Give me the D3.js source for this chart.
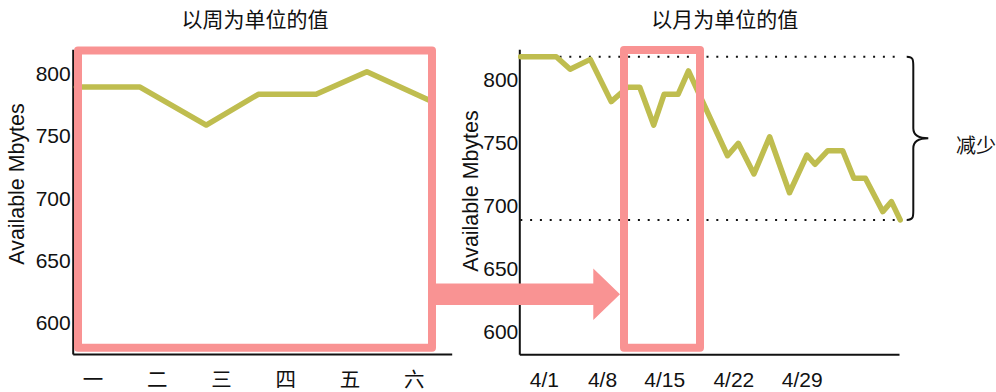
<!DOCTYPE html>
<html>
<head>
<meta charset="utf-8">
<script src="https://cdn.jsdelivr.net/npm/d3@7/dist/d3.min.js"></script>
<style>
  html, body { margin: 0; padding: 0; background: #fff; }
  svg { display: block; }
</style>
</head>
<body>
<svg id="chart" width="996" height="392"></svg>
<script>
// ---- data ----
const weekLabels = ['一', '二', '三', '四', '五', '六'];
// weekly view: position in days (0 = 一) and available memory
const weekT = [-0.25, 0.74, 1.77, 2.58, 3.48, 4.27, 5.3];
const weekValues = [789, 789, 758.6, 783.2, 783.2, 801.3, 777];

const monthTickLabels = ['4/1', '4/8', '4/15', '4/22', '4/29'];
const monthTickT = [1, 7.32, 14.07, 21.58, 29];
// monthly view: sample time in days of April and available memory
const monthT = [-1.51, 2.35, 3.86, 6.05, 8.32, 10.10, 11.42, 12.93, 14.06, 15.58,
                16.71, 20.95, 22.12, 23.82, 25.52, 27.68, 29.57, 30.44, 31.84, 33.46,
                34.67, 35.92, 37.81, 38.75, 39.70];
const monthValues = [818.5, 818.5, 808.5, 816.4, 782.8, 794.2, 794.2, 764.2, 788.6, 788.6,
                     807.2, 739.8, 749.7, 725.3, 754.9, 710.4, 740.4, 733.0, 743.8, 743.8,
                     721.9, 721.9, 695.4, 703.3, 688.8];

const yTicks = [600, 650, 700, 750, 800];

const titles = ['以周为单位的值', '以月为单位的值'];
const yTitle = 'Available Mbytes';
const braceLabel = '减少';

// ---- styles ----
const LINE_COLOR = '#BFBD4F';
const PINK = '#F99393';
const INK = '#111';
const LATIN = '"Liberation Sans", Arial, sans-serif';
const CJK = '"Noto Sans CJK SC", "Noto Sans CJK JP", sans-serif';

const svg = d3.select('#chart');

// ---- scales ----
const xW = d3.scaleLinear().domain([-0.308, 5.59]).range([72.7, 451.7]);
const yW = d3.scaleLinear().domain([575.4, 819.2]).range([354, 49.3]);
const xM = d3.scaleLinear().domain([-1.66, 39.57]).range([519.3, 899]);
const yM = d3.scaleLinear().domain([582, 824.4]).range([354.3, 49.3]);

function styleAxis(g, font, size) {
  g.select('.domain').attr('stroke', INK).attr('stroke-width', 2);
  g.selectAll('.tick line').remove();
  g.selectAll('text')
    .attr('fill', INK)
    .style('font-family', font)
    .style('font-size', size + 'px');
}

// ---- weekly panel axes ----
svg.append('g')
  .attr('transform', `translate(${xW.range()[0]},0)`)
  .call(d3.axisLeft(yW).tickValues(yTicks).tickSize(0).tickPadding(2))
  .call(g => styleAxis(g, LATIN, 21));

svg.append('g')
  .attr('transform', `translate(0,${yW.range()[0]})`)
  .call(d3.axisBottom(xW).tickValues(d3.range(weekLabels.length))
        .tickFormat(i => weekLabels[i]).tickSize(0))
  .call(g => styleAxis(g, CJK, 20.5))
  .call(g => g.selectAll('text').attr('y', 24.2).attr('dy', null)
                .attr('dominant-baseline', 'central'));

// ---- monthly panel axes ----
svg.append('g')
  .attr('transform', `translate(${xM.range()[0]},0)`)
  .call(d3.axisLeft(yM).tickValues(yTicks).tickSize(0).tickPadding(1))
  .call(g => styleAxis(g, LATIN, 21));

svg.append('g')
  .attr('transform', `translate(0,${yM.range()[0]})`)
  .call(d3.axisBottom(xM).tickValues(monthTickT)
        .tickFormat((d, i) => monthTickLabels[i]).tickSize(0))
  .call(g => styleAxis(g, LATIN, 21))
  .call(g => g.selectAll('text').attr('y', 25.5).attr('dy', null)
                .attr('dominant-baseline', 'central'));

// ---- max / min reference lines on the monthly panel ----
const mMax = d3.max(monthValues);
const mMin = d3.min(monthValues);
svg.append('g')
  .selectAll('line')
  .data([mMax, mMin])
  .join('line')
  .attr('x1', xM.range()[0] + 1)
  .attr('x2', 897)
  .attr('y1', d => yM(d))
  .attr('y2', d => yM(d))
  .attr('stroke', INK)
  .attr('stroke-width', 2)
  .attr('stroke-dasharray', '2 7.8');

// ---- data lines ----
const weekLine = d3.line().x((d, i) => xW(weekT[i])).y(d => yW(d));
svg.append('path')
  .attr('d', weekLine(weekValues))
  .attr('fill', 'none')
  .attr('stroke', LINE_COLOR)
  .attr('stroke-width', 5.5)
  .attr('stroke-linejoin', 'round')
  .attr('stroke-linecap', 'round');

const monthLine = d3.line().x((d, i) => xM(monthT[i])).y(d => yM(d));
svg.append('path')
  .attr('d', monthLine(monthValues))
  .attr('fill', 'none')
  .attr('stroke', LINE_COLOR)
  .attr('stroke-width', 5.5)
  .attr('stroke-linejoin', 'round')
  .attr('stroke-linecap', 'round');

// ---- highlight frames ----
const frames = [
  { x0: 78, x1: 432, y0: 50.5, y1: 347.7 },   // whole week
  { x0: 624, x1: 700, y0: 50, y1: 347.7 }     // the same week inside the month
];
svg.append('g')
  .selectAll('rect')
  .data(frames)
  .join('rect')
  .attr('x', d => d.x0)
  .attr('y', d => d.y0)
  .attr('width', d => d.x1 - d.x0)
  .attr('height', d => d.y1 - d.y0)
  .attr('fill', 'none')
  .attr('stroke', PINK)
  .attr('stroke-width', 8)
  .attr('stroke-linejoin', 'round');

// ---- arrow from the week frame to the month frame ----
const ay = 294.2, shaftHalf = 10.8, headHalf = 25.8, headLen = 26.7;
const ax0 = 432, ax1 = 620;
svg.append('path')
  .attr('d', [
    `M${ax0},${ay - shaftHalf}`,
    `L${ax1 - headLen},${ay - shaftHalf}`,
    `L${ax1 - headLen},${ay - headHalf}`,
    `L${ax1},${ay}`,
    `L${ax1 - headLen},${ay + headHalf}`,
    `L${ax1 - headLen},${ay + shaftHalf}`,
    `L${ax0},${ay + shaftHalf}`, 'Z'].join(''))
  .attr('fill', PINK);

// ---- curly brace spanning the drop ----
const bTop = yM(mMax), bBot = yM(mMin), bMid = (bTop + bBot) / 2;
const bx0 = 906.7, bx1 = 913.3, bTip = 928.3;
svg.append('path')
  .attr('d', [
    `M${bx0},${bTop}`,
    `C${bx1},${bTop} ${bx1},${bTop + 3} ${bx1},${bTop + 10}`,
    `L${bx1},${bMid - 10}`,
    `C${bx1},${bMid - 3} ${bx1 + 6},${bMid} ${bTip},${bMid}`,
    `C${bx1 + 6},${bMid} ${bx1},${bMid + 3} ${bx1},${bMid + 10}`,
    `L${bx1},${bBot - 10}`,
    `C${bx1},${bBot - 3} ${bx1},${bBot} ${bx0},${bBot}`].join(''))
  .attr('fill', 'none')
  .attr('stroke', INK)
  .attr('stroke-width', 2);

svg.append('text')
  .attr('x', 956)
  .attr('y', bMid + 6)
  .attr('dominant-baseline', 'central')
  .attr('fill', INK)
  .style('font-family', CJK)
  .style('font-size', '20px')
  .text(braceLabel);

// ---- titles ----
svg.selectAll('text.title')
  .data([{ x: 255, t: titles[0] }, { x: 724.7, t: titles[1] }])
  .join('text')
  .attr('class', 'title')
  .attr('x', d => d.x)
  .attr('y', 18.3)
  .attr('text-anchor', 'middle')
  .attr('dominant-baseline', 'central')
  .attr('fill', INK)
  .style('font-family', CJK)
  .style('font-size', '21px')
  .text(d => d.t);

// ---- y axis titles ----
svg.selectAll('text.ytitle')
  .data([{ x: 23.5, y: 184 }, { x: 477.5, y: 191 }])
  .join('text')
  .attr('class', 'ytitle')
  .attr('transform', d => `translate(${d.x},${d.y}) rotate(-90)`)
  .attr('text-anchor', 'middle')
  .attr('fill', INK)
  .style('font-family', LATIN)
  .style('font-size', '21.4px')
  .text(yTitle);
</script>
</body>
</html>
